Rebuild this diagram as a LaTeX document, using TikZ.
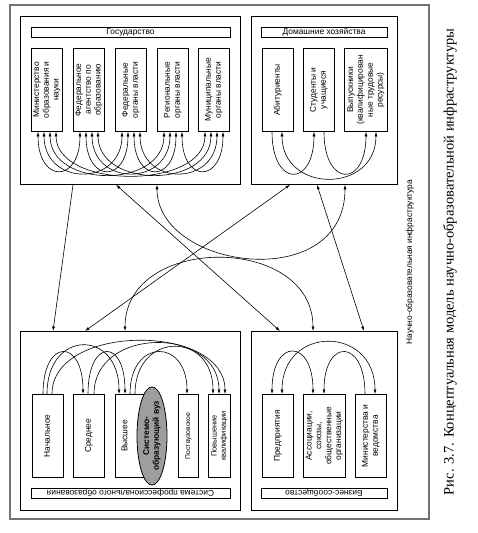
\documentclass[tikz,border=0pt]{standalone}
\usepackage{fontspec}
\setmainfont{Liberation Sans}
\newfontfamily\capfont{Liberation Serif}
\usepackage{graphicx}
\usetikzlibrary{arrows.meta,shapes.geometric}

\newcommand{\vtxt}[1]{\rotatebox{90}{\begin{tabular}{@{}c@{}}#1\end{tabular}}}

\begin{document}
\begin{tikzpicture}[x=1pt, y=-1pt, line width=0.6pt,
  >={Latex[length=4.5pt,width=3pt]},
  font=\fontsize{8.4}{9.8}\selectfont,
  block/.style={draw, line width=0.8pt, anchor=north west, inner sep=0pt},
  bar/.style={draw, line width=0.6pt, minimum height=10pt, inner sep=0pt},
  unit/.style={draw, line width=0.8pt, anchor=north west, minimum width=31pt, minimum height=83pt, inner sep=0pt}]
  \useasboundingbox (0,0) rectangle (477,533);
  \draw[black!55, line width=1.3pt] (10,5) rectangle (429,519);

  \node[block, minimum width=220pt, minimum height=168pt] (gov) at (20,16) {};
  \node[block, minimum width=146pt, minimum height=168pt] (hh) at (251,16) {};
  \node[block, minimum width=220pt, minimum height=179pt] (edu) at (20,331) {};
  \node[block, minimum width=146pt, minimum height=179pt] (bus) at (251,331) {};

  \node[bar, minimum width=199pt] (govbar) at (130.5,32) {Государство};
  \node[bar, minimum width=126pt] (hhbar) at (324,32) {Домашние хозяйства};
  \node[bar, minimum width=199pt, rotate=180] (edubar) at (130.5,493) {Система профессионального образования};
  \node[bar, minimum width=126pt, rotate=180] (busbar) at (324,493) {Бизнес-сообщество};

  % государство
  \node[unit] (g1) at (31,48) {\vtxt{Министерство\\образования и\\науки}};
  \node[unit] (g2) at (73,48) {\vtxt{Федеральное\\агентство по\\образованию}};
  \node[unit] (g3) at (115,48) {\vtxt{Федеральные\\органы власти}};
  \node[unit] (g4) at (157,48) {\vtxt{Региональные\\органы власти}};
  \node[unit] (g5) at (198,48) {\vtxt{Муниципальные\\органы власти}};

  \draw[<->] ([xshift=7pt]g1.south west) .. controls +(0,52) and +(0,52) .. ([xshift=7pt]g2.south west);
  \draw[<->] ([xshift=13pt]g1.south west) .. controls +(0,55) and +(0,55) .. ([xshift=7pt]g3.south west);
  \draw[<->] ([xshift=19pt]g1.south west) .. controls +(0,57) and +(0,57) .. ([xshift=7pt]g4.south west);
  \draw[<->] ([xshift=25pt]g1.south west) .. controls +(0,58) and +(0,58) .. ([xshift=7pt]g5.south west);
  \draw[<->] ([xshift=13pt]g2.south west) .. controls +(0,52) and +(0,52) .. ([xshift=13pt]g3.south west);
  \draw[<->] ([xshift=19pt]g2.south west) .. controls +(0,55) and +(0,55) .. ([xshift=13pt]g4.south west);
  \draw[<->] ([xshift=25pt]g2.south west) .. controls +(0,57) and +(0,57) .. ([xshift=13pt]g5.south west);
  \draw[<->] ([xshift=19pt]g3.south west) .. controls +(0,52) and +(0,52) .. ([xshift=19pt]g4.south west);
  \draw[<->] ([xshift=25pt]g3.south west) .. controls +(0,55) and +(0,55) .. ([xshift=19pt]g5.south west);
  \draw[<->] ([xshift=25pt]g4.south west) .. controls +(0,52) and +(0,52) .. ([xshift=25pt]g5.south west);

  % домашние хозяйства
  \node[unit] (h1) at (262,48) {\vtxt{Абитуриенты}};
  \node[unit] (h2) at (303,48) {\vtxt{Студенты и\\учащиеся}};
  \node[unit, minimum width=43pt] (h3) at (344,48) {\vtxt{Выпускники\\(квалифицирован\\ные трудовые\\ресурсы)}};

  \draw[->] ([xshift=10pt]h1.south west) .. controls +(0,56) and +(0,56) .. ([xshift=11pt]h2.south west);
  \draw[<->] ([xshift=20pt]h1.south west) .. controls +(0,62) and +(0,62) .. ([xshift=32pt]h3.south west);
  \draw[->] ([xshift=21pt]h2.south west) .. controls +(0,56) and +(0,56) .. ([xshift=22pt]h3.south west);

  % система профессионального образования
  \node[unit] (e1) at (32,394) {\vtxt{Начальное}};
  \node[unit] (e2) at (73,394) {\vtxt{Среднее}};
  \node[unit, minimum width=32pt] (e3) at (115,394) {\hspace*{-12pt}\vtxt{Высшее}};
  \node[unit, minimum width=20pt, font=\fontsize{6.8}{8}\selectfont] (e4) at (178,394) {\vtxt{Поствузовское}};
  \node[unit, minimum width=22pt, font=\fontsize{7.4}{9.2}\selectfont] (e5) at (208,394) {\vtxt{Повышение\\квалификации}};
  \node[ellipse, draw, line width=0.8pt, fill=black!38, minimum width=30pt, minimum height=86pt, inner sep=0pt] (vuz) at (152,436)
    {\vtxt{\textbf{Системо-}\\\textbf{образующий вуз}}};

  \draw[->] ([xshift=11pt]e1.north west) .. controls +(0,-56) and +(0,-56) .. ([xshift=10pt]e2.north west);
  \draw[->] ([xshift=15pt]e1.north west) .. controls +(0,-65) and +(0,-65) .. ([xshift=4pt]e3.north west);
  \draw[->] ([xshift=20pt]e1.north west) .. controls +(0,-71) and +(0,-71) .. ([xshift=17pt]e5.north west);
  \draw[->] ([xshift=15pt]e2.north west) .. controls +(0,-56) and +(0,-56) .. ([xshift=10pt]e3.north west);
  \draw[->] ([xshift=21pt]e2.north west) .. controls +(0,-68) and +(0,-68) .. ([xshift=11pt]e5.north west);
  \draw[->] ([xshift=15pt]e3.north west) .. controls +(0,-56) and +(0,-56) .. ([xshift=9pt]e4.north west);
  \draw[->] ([xshift=20pt]e3.north west) .. controls +(0,-63) and +(0,-63) .. ([xshift=5pt]e5.north west);

  % бизнес-сообщество
  \node[unit] (b1) at (262,394) {\vtxt{Предприятия}};
  \node[unit, minimum width=42pt] (b2) at (303,394) {\vtxt{Ассоциации,\\союзы,\\общественные\\организации}};
  \node[unit] (b3) at (355,394) {\vtxt{Министерства и\\ведомства}};

  \draw[<->] ([xshift=10pt]b1.north west) .. controls +(0,-56) and +(0,-56) .. ([xshift=10pt]b2.north west);
  \draw[<->] ([xshift=20pt]b1.north west) .. controls +(0,-69) and +(0,-69) .. ([xshift=20pt]b3.north west);
  \draw[->] ([xshift=10pt]b3.north west) .. controls +(0,-56) and +(0,-56) .. ([xshift=21pt]b2.north west);

  % связи между блоками
  \draw[->] ([xshift=53pt]gov.south west) -- ([xshift=33pt]edu.north west);
  \draw[<->] ([xshift=96pt]gov.south west) -- ([xshift=29pt]bus.north west);
  \draw[<->] ([xshift=137pt]gov.south west) .. controls +(0,85) and +(0,110) .. ([xshift=94pt]hh.south west);
  \draw[<->] ([xshift=65pt]edu.north west) -- ([xshift=39pt]hh.south west);
  \draw[<->] ([xshift=105pt]edu.north west) .. controls +(0,-97) and +(0,-97) .. ([xshift=62pt]bus.north west);
  \draw[<->] ([xshift=66pt]hh.south west) -- ([xshift=113pt]bus.north west);

  \node[rotate=90] (infra) at (410,262) {Научно-образовательная инфраструктура};
  \node[rotate=90, font=\capfont\fontsize{14.5}{17}\selectfont] (caption) at (450,262)
    {Рис. 3.7. Концептуальная модель научно-образовательной инфраструктуры};
\end{tikzpicture}
\end{document}
